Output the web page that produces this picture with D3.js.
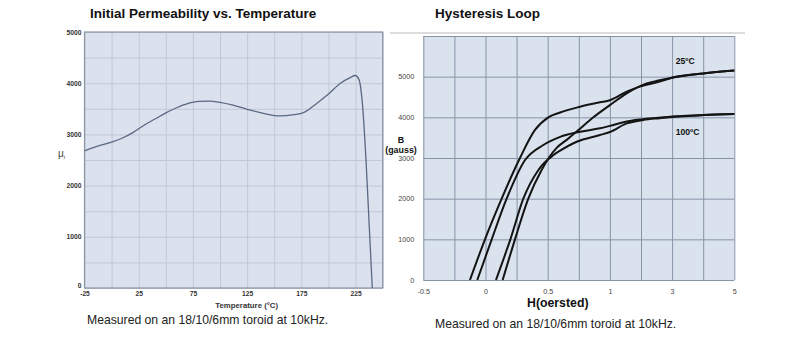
<!DOCTYPE html>
<html>
<head>
<meta charset="utf-8">
<script src="https://cdn.jsdelivr.net/npm/d3@7"></script>
<style>
  body { margin: 0; background: #fff; }
  text { font-family: "Liberation Sans", Arial, sans-serif; }
</style>
</head>
<body>
<div id="charts"></div>
<script>
/* global d3 */

// Initial permeability vs temperature
const tempC = [-25, -10, 0, 10, 20, 30, 40, 50, 60, 70, 80, 90, 100, 112, 125, 140, 155, 168, 177, 190, 200, 211, 220, 224.5, 228, 231, 234.6, 237.6, 240.4]
const permeability = [2680, 2790, 2850, 2930, 3040, 3180, 3300, 3420, 3520, 3600, 3645, 3650, 3625, 3570, 3490, 3410, 3360, 3385, 3425, 3620, 3790, 4000, 4110, 4150, 4080, 3670, 2500, 1200, 0]
const tempTicks = [-25, 25, 75, 125, 175, 225]
const muTicks = [0, 1000, 2000, 3000, 4000, 5000]

// Hysteresis loops, H in oersted, B in gauss
const h25Down = [-0.125, -0.004, 0.13, 0.277, 0.398, 0.505, 0.6, 0.76, 0.92, 1.0, 1.54, 1.96, 2.6, 3.04, 4, 5]
const b25Down = [0, 1000, 2000, 3000, 3690, 4000, 4120, 4260, 4370, 4420, 4630, 4755, 4880, 4985, 5080, 5150]
const h25Up = [0.138, 0.237, 0.344, 0.45, 0.572, 0.65, 0.733, 0.867, 1.0, 1.54, 2.18, 2.6, 3, 4, 5]
const b25Up = [0, 1000, 2000, 2700, 3250, 3440, 3650, 4000, 4300, 4590, 4836, 4910, 4975, 5080, 5150]
const h100Down = [-0.066, 0.05, 0.17, 0.318, 0.465, 0.6, 0.75, 0.92, 1.0, 1.5, 2, 3, 4, 5]
const b100Down = [0, 1000, 2000, 2950, 3320, 3520, 3640, 3730, 3790, 3890, 3950, 4020, 4060, 4080]
const h100Up = [0.084, 0.2, 0.304, 0.424, 0.545, 0.6, 0.733, 0.92, 1.0, 1.54, 2.07, 2.6, 3, 4, 5]
const b100Up = [0, 1000, 2000, 2700, 3070, 3180, 3400, 3565, 3640, 3850, 3935, 3980, 4010, 4055, 4080]
const hTicks = [-0.5, 0, 0.5, 1, 3, 5]
const bTicks = [0, 1000, 2000, 3000, 4000, 5000]

const width = 800,
  height = 342

let svg = d3.select('#charts')
  .append('svg')
  .attr('width', width)
  .attr('height', height)

const zip = (xs, ys) => xs.map((x, i) => [x, ys[i]])
const plain = d => String(d)

// ---------- left chart ----------
const L = { left: 84.5, right: 382.7, top: 32, bottom: 288 }

const xTemp = d3.scaleLinear().domain([-25, 250]).range([L.left, L.right])
const yMu = d3.scaleLinear().domain([0, 5000]).range([L.bottom, L.top])

let left = svg.append('g')

left.append('rect')
  .attr('x', L.left).attr('y', L.top)
  .attr('width', L.right - L.left).attr('height', L.bottom - L.top)
  .attr('fill', '#dbe2ee')

left.append('g')
  .attr('transform', `translate(0,${L.bottom})`)
  .call(d3.axisBottom(xTemp).tickValues(d3.range(-25, 251, 25)).tickSize(-(L.bottom - L.top)).tickFormat(''))
  .call(g => g.select('.domain').remove())
  .call(g => g.selectAll('line').attr('stroke', '#c0c9d8'))

left.append('g')
  .attr('transform', `translate(${L.left},0)`)
  .call(d3.axisLeft(yMu).tickValues(d3.range(0, 5001, 500)).tickSize(-(L.right - L.left)).tickFormat(''))
  .call(g => g.select('.domain').remove())
  .call(g => g.selectAll('line').attr('stroke', '#c0c9d8'))

left.append('rect')
  .attr('x', L.left).attr('y', L.top)
  .attr('width', L.right - L.left).attr('height', L.bottom - L.top)
  .attr('fill', 'none')
  .attr('stroke', '#8d95a3')
  .attr('stroke-width', 1.2)

left.append('path')
  .datum(zip(tempC, permeability))
  .attr('fill', 'none')
  .attr('stroke', '#5b6882')
  .attr('stroke-width', 1.3)
  .attr('d', d3.line().x(d => xTemp(d[0])).y(d => yMu(d[1])).curve(d3.curveMonotoneX))

left.append('g')
  .attr('transform', `translate(${L.left},0)`)
  .call(d3.axisLeft(yMu).tickValues(muTicks).tickSize(0).tickPadding(3).tickFormat(plain))
  .call(g => g.select('.domain').remove())
  .call(g => g.selectAll('text')
    .style('font-size', '6.7px').style('font-weight', 'bold').attr('fill', '#333'))
  // the zero label sits a little higher, clear of the -25 below it
  .call(g => g.selectAll('.tick').filter(d => d === 0).select('text').attr('dy', '-0.1em'))

left.append('g')
  .attr('transform', `translate(0,${L.bottom})`)
  .call(d3.axisBottom(xTemp).tickValues(tempTicks).tickSize(0).tickPadding(3.5).tickFormat(plain))
  .call(g => g.select('.domain').remove())
  .call(g => g.selectAll('text')
    .style('font-size', '6.7px').style('font-weight', 'bold').attr('fill', '#333'))

left.append('text')
  .attr('x', 246.7).attr('y', 307.5)
  .attr('text-anchor', 'middle')
  .style('font-size', '7.8px').style('font-weight', 'bold')
  .attr('fill', '#333')
  .text('Temperature (°C)')

let mu = left.append('text')
  .attr('x', 58).attr('y', 157)
  .style('font-size', '10px')
  .attr('fill', '#444')
mu.append('tspan').text('μ')
mu.append('tspan').attr('dy', 2).style('font-size', '6px').text('i')

left.append('text')
  .attr('x', 90).attr('y', 17.5)
  .style('font-size', '13.5px').style('font-weight', 'bold')
  .attr('fill', '#111')
  .text('Initial Permeability vs. Temperature')

left.append('text')
  .attr('x', 87).attr('y', 323.5)
  .style('font-size', '12.2px')
  .attr('fill', '#222')
  .text('Measured on an 18/10/6mm toroid at 10kHz.')

// ---------- right chart ----------
const R = { left: 423.3, right: 734.3, top: 36, bottom: 280 }
const col = (R.right - R.left) / 10

// H axis is piecewise: -0.5..1 in 6 columns, 1..3 and 3..5 in 2 columns each
const xH = d3.scaleLinear()
  .domain([-0.5, 1, 3, 5])
  .range([R.left, R.left + 6 * col, R.left + 8 * col, R.right])
const yB = d3.scaleLinear().domain([0, 6000]).range([R.bottom, R.top])

let right = svg.append('g')

right.append('line')
  .attr('x1', 390).attr('x2', 745)
  .attr('y1', 33).attr('y2', 33)
  .attr('stroke', '#d0d0d0')
  .attr('stroke-width', 1.5)

right.append('rect')
  .attr('x', R.left).attr('y', R.top)
  .attr('width', R.right - R.left).attr('height', R.bottom - R.top)
  .attr('fill', '#d9e2ed')

right.append('g')
  .attr('transform', `translate(0,${R.bottom})`)
  .call(d3.axisBottom(xH)
    .tickValues([-0.5, -0.25, 0, 0.25, 0.5, 0.75, 1, 2, 3, 4, 5])
    .tickSize(-(R.bottom - R.top)).tickFormat(''))
  .call(g => g.select('.domain').remove())
  .call(g => g.selectAll('line').attr('stroke', '#8794a6'))

right.append('g')
  .attr('transform', `translate(${R.left},0)`)
  .call(d3.axisLeft(yB).tickValues(d3.range(0, 6001, 1000)).tickSize(-(R.right - R.left)).tickFormat(''))
  .call(g => g.select('.domain').remove())
  .call(g => g.selectAll('line').attr('stroke', '#8794a6'))

const loopLine = d3.line()
  .x(d => xH(d[0]))
  .y(d => yB(d[1]))
  .curve(d3.curveMonotoneX)

const loops = [
  zip(h25Down, b25Down),
  zip(h25Up, b25Up),
  zip(h100Down, b100Down),
  zip(h100Up, b100Up)
]

right.selectAll('path.loop')
  .data(loops)
  .enter()
  .append('path')
  .attr('class', 'loop')
  .attr('fill', 'none')
  .attr('stroke', '#141414')
  .attr('stroke-width', 2)
  .attr('d', loopLine)

right.append('g')
  .attr('transform', `translate(${R.left},0)`)
  .call(d3.axisLeft(yB).tickValues(bTicks).tickSize(0).tickPadding(9).tickFormat(plain))
  .call(g => g.select('.domain').remove())
  .call(g => g.selectAll('text')
    .style('font-size', '7.2px').attr('fill', '#444'))

right.append('g')
  .attr('transform', `translate(0,${R.bottom})`)
  .call(d3.axisBottom(xH).tickValues(hTicks).tickSize(0).tickPadding(8.5).tickFormat(plain))
  .call(g => g.select('.domain').remove())
  .call(g => g.selectAll('text')
    .style('font-size', '7.2px').attr('fill', '#444'))

right.append('text')
  .attr('x', 401).attr('y', 142.5)
  .attr('text-anchor', 'middle')
  .style('font-size', '8.9px').style('font-weight', 'bold')
  .attr('fill', '#111')
  .text('B')

right.append('text')
  .attr('x', 401).attr('y', 152.5)
  .attr('text-anchor', 'middle')
  .style('font-size', '8.9px').style('font-weight', 'bold')
  .attr('fill', '#111')
  .text('(gauss)')

right.append('text')
  .attr('x', 527).attr('y', 307)
  .style('font-size', '12.3px').style('font-weight', 'bold')
  .attr('fill', '#111')
  .text('H(oersted)')

right.append('text')
  .attr('x', 675.7).attr('y', 64)
  .style('font-size', '8.6px').style('font-weight', 'bold')
  .attr('fill', '#111')
  .text('25ºC')

right.append('text')
  .attr('x', 675.7).attr('y', 135)
  .style('font-size', '8.6px').style('font-weight', 'bold')
  .attr('fill', '#111')
  .text('100ºC')

right.append('text')
  .attr('x', 435).attr('y', 17.5)
  .style('font-size', '13.5px').style('font-weight', 'bold')
  .attr('fill', '#111')
  .text('Hysteresis Loop')

right.append('text')
  .attr('x', 435).attr('y', 328)
  .style('font-size', '12.2px')
  .attr('fill', '#222')
  .text('Measured on an 18/10/6mm toroid at 10kHz.')
</script>
</body>
</html>
